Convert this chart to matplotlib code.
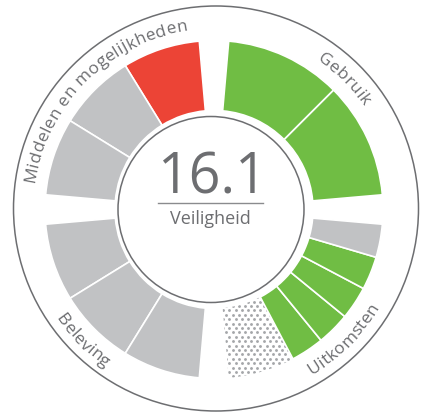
import numpy as np
import matplotlib
matplotlib.use("Agg")
import matplotlib.pyplot as plt
from matplotlib.patches import Wedge, Circle
from matplotlib.font_manager import FontProperties

# status of each indicator, listed counter-clockwise from the start of its quadrant
domeinen = ["Gebruik", "Middelen en mogelijkheden", "Beleving", "Uitkomsten"]
gebruik = ["goed", "goed"]
middelen = ["onvoldoende", "neutraal", "neutraal"]
beleving = ["neutraal", "neutraal", "neutraal"]
uitkomsten = ["onbekend", "onbekend", "goed", "goed", "goed", "goed", "neutraal"]
score = 16.1
thema = "Veiligheid"

kleuren = {"goed": "#70bd44", "onvoldoende": "#ec4436", "neutraal": "#c1c2c4"}
tekstkleur = "#6d6e71"
stipkleur = "#a4a6a9"

W, H = 421, 416
centrum = (214, 206.5)
r_binnen, r_buiten = 99, 169
gat = 10  # degrees between quadrants

# quadrant start angle, label direction (True = clockwise, letters pointing outward)
kwadranten = [
    (gebruik, 0, True),
    (middelen, 90, True),
    (beleving, 180, False),
    (uitkomsten, 270, False),
]

fig = plt.figure(figsize=(W / 100, H / 100), dpi=100)
ax = fig.add_axes([0, 0, 1, 1])
ax.set_xlim(0, W)
ax.set_ylim(0, H)
ax.set_aspect("equal")
ax.axis("off")


def reeksen(statussen):
    # consecutive unknown indicators are drawn as one dotted block
    i = 0
    while i < len(statussen):
        j = i + 1
        if statussen[i] == "onbekend":
            while j < len(statussen) and statussen[j] == "onbekend":
                j += 1
        yield statussen[i], i, j
        i = j


for statussen, start, _ in kwadranten:
    stap = (90 - gat) / len(statussen)
    for status, i, j in reeksen(statussen):
        t1 = start + gat / 2 + i * stap
        t2 = start + gat / 2 + j * stap
        if status == "onbekend":
            w = Wedge(centrum, r_buiten, t1, t2, width=r_buiten - r_binnen,
                      facecolor="none", edgecolor="none")
            ax.add_patch(w)
            xs, ys = [], []
            for k, y in enumerate(np.arange(0, H, 4.4)):
                off = 3.1 if k % 2 else 0
                for x in np.arange(off, W, 6.2):
                    xs.append(x)
                    ys.append(y)
            pts = ax.scatter(xs, ys, s=4.2, color=stipkleur, linewidths=0)
            pts.set_clip_path(w)
        else:
            ax.add_patch(Wedge(centrum, r_buiten, t1, t2, width=r_buiten - r_binnen,
                               facecolor=kleuren[status], edgecolor="white", linewidth=1.2))

# rings
ax.add_patch(Circle((211, 206.5), 93, facecolor="none", edgecolor=tekstkleur, linewidth=1.1))
ax.add_patch(Circle((216, 207.5), 202.5, facecolor="none", edgecolor=tekstkleur, linewidth=1.1))

# curved domain labels
fig.canvas.draw()
renderer = fig.canvas.get_renderer()
fp = FontProperties(family="Open Sans", size=12.5)
spatie = 0.25


def boog_tekst(tekst, midden, straal, met_klok):
    ref = renderer.get_text_width_height_descent("II", fp, ismath=False)[0]
    breedtes = [renderer.get_text_width_height_descent("I" + c + "I", fp, ismath=False)[0] - ref + spatie
                for c in tekst]
    totaal = sum(breedtes)
    halve = np.degrees(totaal / straal) / 2
    cum = 0
    for c, b in zip(tekst, breedtes):
        d = np.degrees((cum + b / 2) / straal)
        if met_klok:
            th = midden + halve - d
            rot = th - 90
        else:
            th = midden - halve + d
            rot = th + 90
        x = centrum[0] + straal * np.cos(np.radians(th))
        y = centrum[1] + straal * np.sin(np.radians(th))
        ax.text(x, y, c, rotation=rot, rotation_mode="anchor", ha="center", va="baseline",
                fontproperties=fp, color=tekstkleur)
        cum += b


for naam, (statussen, start, met_klok) in zip(domeinen, kwadranten):
    boog_tekst(naam, start + 45, 181 if met_klok else 192, met_klok)

# score in the middle
ax.text(212, 223, f"{score:.1f}", ha="center", va="baseline", fontsize=40,
        family="Open Sans", color=tekstkleur)
ax.plot([158, 263], [213, 213], color="#8a8b8e", linewidth=1.0)
ax.text(210, 192, thema, ha="center", va="baseline", fontsize=13,
        family="Open Sans", color=tekstkleur)

fig.savefig("out.png", dpi=100)
